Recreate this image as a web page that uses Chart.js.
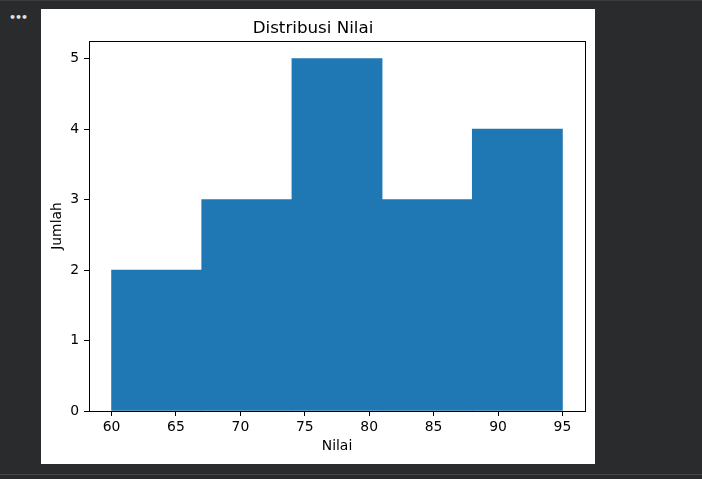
<!DOCTYPE html>
<html>
<head>
<meta charset="utf-8">
<script src="https://cdn.jsdelivr.net/npm/chart.js@4.4.0/dist/chart.umd.min.js"></script>
<style>
    html, body { margin: 0; padding: 0; }
    body { width: 702px; height: 479px; background: #2a2b2d; position: relative; overflow: hidden; }
    .top-line { position: absolute; left: 0; top: 0; width: 702px; height: 1px; background: #3c3d3f; }
    .bottom-line { position: absolute; left: 0; top: 474px; width: 702px; height: 1px; background: #46474a; }
    .dots { position: absolute; left: 9px; top: 11px; color: #e0e0e0; font: bold 11px "DejaVu Sans"; letter-spacing: -1px; }
    #figure { position: absolute; left: 41px; top: 9px; width: 554px; height: 455px; background: #fff; }
</style>
</head>
<body>
<div class="top-line"></div>
<div class="bottom-line"></div>
<div class="dots">•••</div>
<div id="figure"><canvas id="hist-chart" width="554" height="455"></canvas></div>
<script>
// --- histogram data --- //
const binEdges = [60, 67, 74, 81, 88, 95];
const binCounts = [2, 3, 5, 3, 4];
const xTicks = [60, 65, 70, 75, 80, 85, 90, 95];
const yTicks = [0, 1, 2, 3, 4, 5];
const xRange = [58.25, 96.75];

// bar centres from the bin edges
const histPoints = binCounts.map((c, i) => ({
    x: (binEdges[i] + binEdges[i + 1]) / 2,
    y: c
}));

const fontFamily = '"DejaVu Sans", sans-serif';
const tickFont = { family: fontFamily, size: 13.9 };

// draw the top and right spines around the plot area
const frame = {
    id: 'frame',
    afterDraw(chart) {
        const { ctx, chartArea } = chart;
        ctx.save();
        ctx.strokeStyle = '#000';
        ctx.lineWidth = 1;
        ctx.strokeRect(Math.round(chartArea.left) + 0.5, Math.round(chartArea.top) + 0.5,
            Math.round(chartArea.right - chartArea.left), Math.round(chartArea.bottom - chartArea.top));
        ctx.restore();
    }
};

const histCanvas = document.getElementById('hist-chart');

let histChart = new Chart(histCanvas, {
    type: 'bar',
    data: {
        datasets: [{
            data: histPoints,
            xAxisID: 'bins',
            backgroundColor: '#1f77b4',
            borderWidth: 0,
            barPercentage: 1,
            categoryPercentage: 1
        }]
    },
    options: {
        responsive: false,
        animation: false,
        layout: { padding: { left: 0, right: 10, top: 0, bottom: 0 } },
        scales: {
            // hidden axis with ticks on the bin edges, so bars fill each bin
            bins: {
                type: 'linear',
                position: 'bottom',
                display: false,
                offset: false,
                min: xRange[0],
                max: xRange[1],
                afterBuildTicks: s => { s.ticks = binEdges.map(v => ({ value: v })); }
            },
            x: {
                type: 'linear',
                position: 'bottom',
                offset: false,
                min: xRange[0],
                max: xRange[1],
                afterBuildTicks: s => { s.ticks = xTicks.map(v => ({ value: v })); },
                afterFit: s => { s.height = 53; },
                grid: { offset: false, drawOnChartArea: false, drawTicks: true, tickLength: 5, tickColor: '#000' },
                border: { display: true, color: '#000' },
                ticks: { color: '#000', padding: 3, font: tickFont },
                title: { display: true, text: 'Nilai', color: '#000', padding: { top: 0, bottom: 9 }, font: tickFont }
            },
            y: {
                min: 0,
                max: 5.25,
                afterBuildTicks: s => { s.ticks = yTicks.map(v => ({ value: v })); },
                afterFit: s => { s.width = 48; },
                grid: { drawOnChartArea: false, drawTicks: true, tickLength: 5, tickColor: '#000' },
                border: { display: true, color: '#000' },
                ticks: { color: '#000', padding: 5, font: tickFont },
                title: { display: true, text: 'Jumlah', color: '#000', padding: { top: 8, bottom: 0 }, font: tickFont }
            }
        },
        plugins: {
            legend: { display: false },
            tooltip: { enabled: false },
            title: {
                display: true,
                text: 'Distribusi Nilai',
                color: '#000',
                padding: { top: 9, bottom: 2.125 },
                font: { family: fontFamily, size: 16.7, weight: 'normal', lineHeight: 1.25 }
            }
        }
    },
    plugins: [frame]
});
</script>
</body>
</html>
